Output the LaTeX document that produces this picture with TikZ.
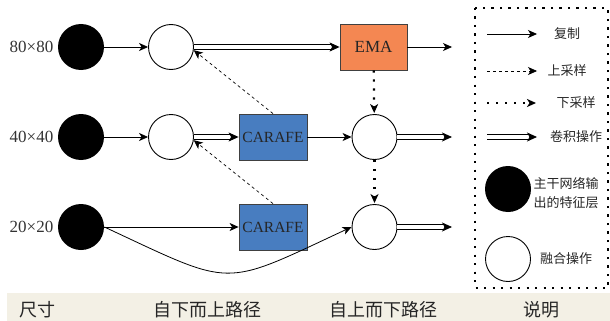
\documentclass[tikz,border=0pt]{standalone}
\usepackage{fontspec}
\setmainfont{Liberation Serif}
\newfontfamily\cjk{Noto Sans CJK SC}
\usetikzlibrary{arrows.meta}
\definecolor{emaorange}{RGB}{244,135,82}
\definecolor{carblue}{RGB}{72,125,192}
\definecolor{bandbeige}{RGB}{243,240,229}

\begin{document}
\begin{tikzpicture}[x=1pt,y=-1pt,line width=0.8pt,>={Stealth[length=9pt,width=8pt,inset=2.5pt]},
    feat/.style={circle,fill=black,inner sep=0pt,minimum size=46pt},
    fuse/.style={circle,draw,line width=0.9pt,fill=white,inner sep=0pt,minimum size=45pt},
    sizelbl/.style={font=\fontsize{17}{20}\selectfont,text=black!80},
    emabox/.style={draw=black!75,fill=emaorange,minimum width=67pt,minimum height=46pt,inner sep=0pt,font=\fontsize{17}{20}\selectfont,text=black!85},
    carbox/.style={draw=black!75,fill=carblue,minimum width=68pt,minimum height=46pt,inner sep=0pt,font=\fontsize{15.5}{18}\selectfont,text=black!85},
    conv/.style={double=white,double distance=4pt,line width=0.9pt,-{Stealth[length=10pt,width=9pt,inset=2.5pt]}},
    upsmp/.style={->,dash pattern=on 3pt off 3pt,line width=0.7pt},
    downsmp/.style={->,line width=2.2pt,dash pattern=on 2.2pt off 6.8pt,shorten >=1pt},
    lgtext/.style={font=\cjk\fontsize{13}{19}\selectfont,text=black!85},
    headtext/.style={font=\cjk\fontsize{18}{20}\selectfont,text=black!85}]

    \useasboundingbox (0,0) rectangle (610,321);

    % rows
    \draw (31.5,47) node[sizelbl] (s1) {80×80};
    \draw (81,47) node[feat] (b1) {};
    \draw (171,47) node[fuse] (u1) {};
    \draw (373.5,47) node[emabox] (ema) {EMA};
    \coordinate (o1) at (452,47);

    \draw (31.5,137) node[sizelbl] (s2) {40×40};
    \draw (81,137) node[feat] (b2) {};
    \draw (171,137) node[fuse] (u2) {};
    \draw (273,137) node[carbox] (car1) {CARAFE};
    \draw (374.5,137) node[fuse] (d2) {};
    \coordinate (o2) at (452,137);

    \draw (31.5,227) node[sizelbl] (s3) {20×20};
    \draw (81,227) node[feat] (b3) {};
    \draw (273,227) node[carbox] (car2) {CARAFE};
    \draw (374.5,227) node[fuse] (d3) {};
    \coordinate (o3) at (452,227);

    \draw[->] (b1) -- (u1);
    \draw[conv] (u1) -- (ema);
    \draw[->] (ema) -- (o1);
    \draw[->] (b2) -- (u2);
    \draw[conv] (u2) -- (car1);
    \draw[->] (car1) -- (d2);
    \draw[conv] (d2) -- (o2);
    \draw[->] (b3) -- (car2);
    \draw[->] (b3.east) to[out=-25,in=205,looseness=1.5] (d3.west);
    \draw[conv] (d3) -- (o3);
    \draw[upsmp] (car1.north) -- (u1.-8);
    \draw[upsmp] (car2.north) -- (u2.-8);
    \draw[downsmp] (ema) -- (d2);
    \draw[downsmp] (d2) -- (d3);

    % legend
    \draw[line width=2.2pt,dash pattern=on 2.2pt off 6.3pt] (475,8) rectangle (608,288);
    \coordinate (k1) at (487,34);  \coordinate (k1e) at (537,34);
    \coordinate (k2) at (487,71);  \coordinate (k2e) at (537,71);
    \coordinate (k3) at (487,103); \coordinate (k3e) at (537,103);
    \coordinate (k4) at (487,137); \coordinate (k4e) at (537,137);
    \draw[->] (k1) -- (k1e);
    \draw[upsmp] (k2) -- (k2e);
    \draw[downsmp] (k3) -- (k3e);
    \draw[conv] (k4) -- (k4e);
    \draw (567,34) node[lgtext] (t1) {复制};
    \draw (567,71) node[lgtext] (t2) {上采样};
    \draw (576,103) node[lgtext] (t3) {下采样};
    \draw (576,137) node[lgtext] (t4) {卷积操作};
    \draw (508,189) node[feat] (kb) {};
    \draw (566,193.5) node[lgtext,align=center] (tb) {主干网络输\\出的特征层};
    \draw (508,259) node[fuse] (kf) {};
    \draw (566,259) node[lgtext] (tf) {融合操作};

    % bottom band
    \fill[bandbeige] (7,293) rectangle (610,321);
    \draw (37,310) node[headtext] (h1) {尺寸};
    \draw (207,310) node[headtext] (h2) {自下而上路径};
    \draw (383,310) node[headtext] (h3) {自上而下路径};
    \draw (541,310) node[headtext] (h4) {说明};

\end{tikzpicture}
\end{document}
